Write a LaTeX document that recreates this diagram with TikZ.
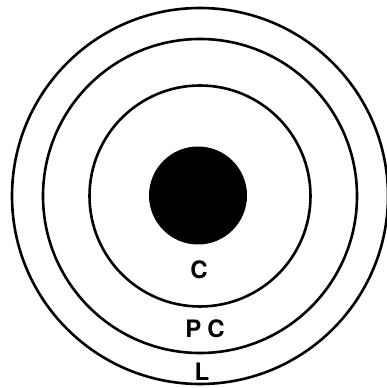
\documentclass[tikz,border=0pt]{standalone}
\usepackage{fontspec}
\setsansfont{TeX Gyre Heros}
\usetikzlibrary{positioning}
\tikzset{
  ring/.style  ={draw,line width=2.6pt},
  core/.style  ={fill=black},
  zone/.style  ={font=\sffamily\bfseries\fontsize{24}{24}\selectfont,inner sep=0pt},
}
\begin{document}
\begin{tikzpicture}[x=1pt,y=1pt]
  \useasboundingbox (0,0) rectangle (387,388);
  \coordinate (ctr) at (200,192);
  \draw[ring] (ctr) circle[radius=188];
  \draw[ring] (ctr) circle[radius=157];
  \draw[ring] (ctr) circle[radius=110.5];
  \fill[core] (198,192.5) circle[radius=49];
  \node[zone](c)  at (199,118){C};
  \node[zone](pc) at (205,59){P\hspace{6pt}C};
  \node[zone](l)  at (202,16){L};
\end{tikzpicture}
\end{document}
